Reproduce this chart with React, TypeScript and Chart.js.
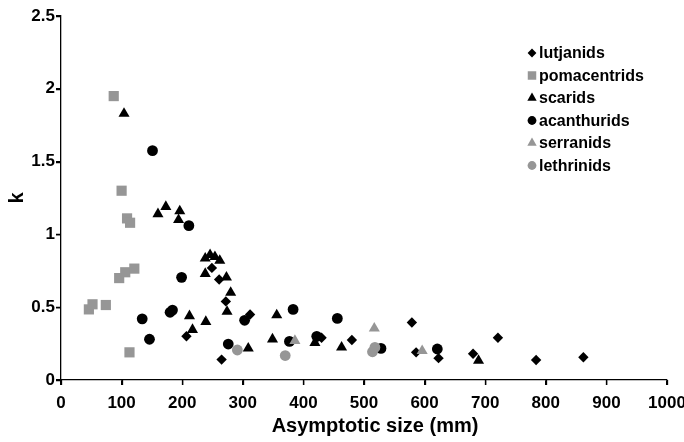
import React, { useEffect, useRef } from "react";
import { Chart, registerables } from "chart.js";
import { drawPoint } from "chart.js/helpers";

Chart.register(...registerables);

// Data: [asymptotic size (mm), k]
const lutjanids: [number, number][] = [
  [207, 0.3], [249, 0.77], [261, 0.69], [265, 0.14], [272, 0.54], [312, 0.45],
  [430, 0.29], [480, 0.275], [579, 0.395], [586, 0.19], [623, 0.15], [680, 0.18],
  [721, 0.29], [784, 0.137], [862, 0.156],
];
const pomacentrids: [number, number][] = [
  [87, 1.95], [100, 1.3], [109, 1.11], [114, 1.08], [46, 0.485], [52, 0.52],
  [74, 0.515], [96, 0.7], [106, 0.74], [121, 0.765], [113, 0.19],
];
const scarids: [number, number][] = [
  [104, 1.83], [160, 1.14], [173, 1.19], [196, 1.16], [194, 1.1], [238, 0.835],
  [246, 0.86], [254, 0.846], [262, 0.82], [238, 0.73], [273, 0.705], [280, 0.6],
  [274, 0.47], [212, 0.44], [217, 0.345], [239, 0.4], [309, 0.217], [349, 0.28],
  [356, 0.446], [419, 0.256], [463, 0.224], [689, 0.133],
];
const acanthurids: [number, number][] = [
  [151, 1.575], [211, 1.06], [199, 0.705], [134, 0.42], [180, 0.465], [184, 0.48],
  [146, 0.28], [276, 0.247], [303, 0.41], [383, 0.485], [377, 0.265], [422, 0.3],
  [456, 0.423], [528, 0.217], [621, 0.213],
];
const serranids: [number, number][] = [
  [386, 0.27], [517, 0.355], [596, 0.2],
];
const lethrinids: [number, number][] = [
  [291, 0.206], [370, 0.168], [514, 0.194], [518, 0.224],
];

const seriesNames = ["lutjanids", "pomacentrids", "scarids", "acanthurids", "serranids", "lethrinids"];
const seriesData = [lutjanids, pomacentrids, scarids, acanthurids, serranids, lethrinids];
const xTickStep = 100;
const yTickStep = 0.5;
const xTitle = "Asymptotic size (mm)";
const yTitle = "k";

const BLACK = "#000000";
const GRAY = "#969696";
const styles = [
  { c: BLACK, s: "rectRot", r: 5.2, lr: 4.4 },
  { c: GRAY, s: "rect", r: 7.2, lr: 6 },
  { c: BLACK, s: "triangle", r: 6.4, lr: 5.4 },
  { c: BLACK, s: "circle", r: 5.4, lr: 4.4 },
  { c: GRAY, s: "triangle", r: 6.4, lr: 5.4 },
  { c: GRAY, s: "circle", r: 5.4, lr: 4.4 },
];

const FONT = "'Liberation Sans', Arial, sans-serif";

const overlayPlugin = {
  id: "overlay",
  afterDraw(chart: any) {
    const ctx = chart.ctx;
    const xs = chart.scales.x;
    const ys = chart.scales.y;
    const area = chart.chartArea;
    ctx.save();
    // tick marks (outward)
    ctx.strokeStyle = "#000";
    ctx.lineWidth = 1.3;
    ctx.beginPath();
    ys.ticks.forEach((t: any) => {
      const py = Math.round(ys.getPixelForValue(t.value)) + 0.5;
      ctx.moveTo(area.left - 5, py);
      ctx.lineTo(area.left, py);
    });
    xs.ticks.forEach((t: any) => {
      const px = Math.round(xs.getPixelForValue(t.value)) + 0.5;
      ctx.moveTo(px, area.bottom);
      ctx.lineTo(px, area.bottom + 5);
    });
    ctx.stroke();
    // legend
    ctx.font = `bold 16px ${FONT}`;
    ctx.textBaseline = "middle";
    ctx.textAlign = "left";
    seriesNames.forEach((name, i) => {
      const y = 53 + i * 22.5;
      const st = styles[i];
      ctx.fillStyle = st.c;
      ctx.strokeStyle = st.c;
      ctx.lineWidth = 0;
      drawPoint(ctx, { pointStyle: st.s as any, radius: st.lr, rotation: 0, borderWidth: 0 } as any, 532, y);
      ctx.fillStyle = "#000";
      ctx.fillText(name, 539, y + 1);
    });
    // x axis title
    ctx.font = `bold 20px ${FONT}`;
    ctx.textAlign = "center";
    ctx.textBaseline = "alphabetic";
    ctx.fillText(xTitle, 375, 431.5);
    ctx.restore();
  },
};

export default function App() {
  const ref = useRef<HTMLCanvasElement | null>(null);
  useEffect(() => {
    document.body.style.margin = "0";
    const canvas = ref.current!;
    const chart = new Chart(canvas, {
      type: "scatter",
      data: {
        datasets: seriesData.map((d, i) => ({
          label: seriesNames[i],
          data: d.map(([x, y]) => ({ x, y })),
          backgroundColor: styles[i].c,
          borderColor: styles[i].c,
          borderWidth: 0,
          pointStyle: styles[i].s as any,
          pointRadius: styles[i].r,
          pointHoverRadius: styles[i].r,
          order: seriesNames.length - i,
        })),
      },
      options: {
        responsive: false,
        animation: false,
        events: [],
        layout: { padding: { top: 16, right: 33, left: 0, bottom: 0 } },
        plugins: { legend: { display: false }, tooltip: { enabled: false } },
        scales: {
          x: {
            type: "linear",
            min: 0,
            max: 1000,
            ticks: {
              stepSize: xTickStep, color: "#000", font: { family: FONT, size: 17, weight: "bold" }, padding: 8, maxRotation: 0,
              callback: (v: any) => String(v),
            },
            grid: { drawOnChartArea: false, drawTicks: true, tickLength: 5, color: "#000", tickColor: "#000", lineWidth: 1.3, tickWidth: 1.3 },
            border: { color: "#000", width: 1.3 },
            title: { display: false, text: xTitle },
            afterFit: (s: any) => { s.height = 62; },
          },
          y: {
            type: "linear",
            min: 0,
            max: 2.5,
            ticks: {
              stepSize: yTickStep, color: "#000", font: { family: FONT, size: 17, weight: "bold" }, padding: 1,
              callback: (v: any) => String(Math.round(Number(v) * 10) / 10),
            },
            grid: { drawOnChartArea: false, drawTicks: true, tickLength: 5, color: "#000", tickColor: "#000", lineWidth: 1.3, tickWidth: 1.3 },
            border: { color: "#000", width: 1.3 },
            title: { display: true, text: yTitle, color: "#000", font: { family: FONT, size: 20, weight: "bold" }, padding: { top: 5, bottom: 0 } },
            afterFit: (s: any) => { s.width = 61; },
          },
        },
      },
      plugins: [overlayPlugin],
    });
    return () => chart.destroy();
  }, []);
  return (
    <div style={{ position: "fixed", left: 0, top: 0, width: 684, height: 442, overflow: "hidden", background: "#fff" }}>
      <canvas ref={ref} width={700} height={442} style={{ display: "block" }} />
    </div>
  );
}
